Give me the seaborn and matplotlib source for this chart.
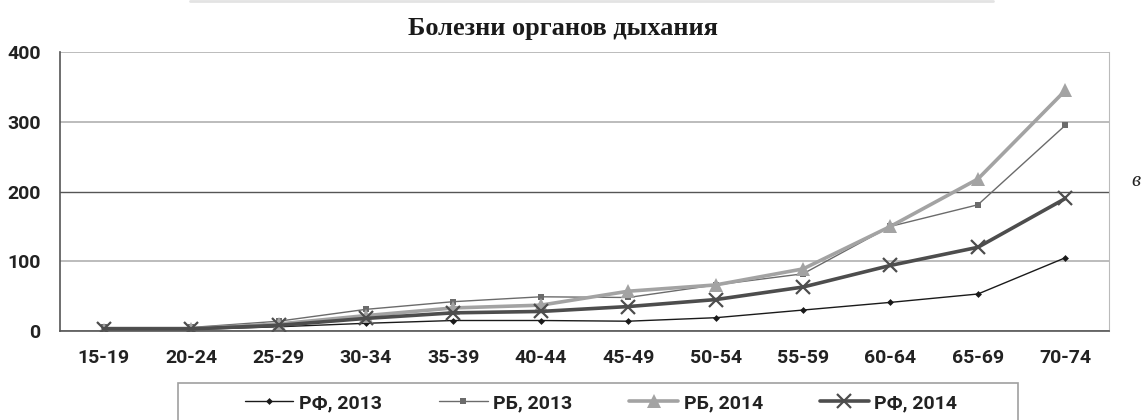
import pandas as pd
import matplotlib.pyplot as plt
import seaborn as sns
from matplotlib.lines import Line2D
from matplotlib.patches import Rectangle

# Data
ages = ["15-19", "20-24", "25-29", "30-34", "35-39", "40-44",
        "45-49", "50-54", "55-59", "60-64", "65-69", "70-74"]
rf_2013 = [2, 2, 6, 11, 15, 15, 14, 19, 30, 41, 53, 105]
rb_2013 = [5, 5, 14, 31, 42, 49, 48, 66, 82, 150, 181, 295]
rb_2014 = [2, 3, 10, 22, 33, 37, 57, 66, 89, 150, 218, 345]
rf_2014 = [3, 3, 8, 18, 26, 28, 35, 45, 63, 94, 120, 190]
series_names = ["РФ, 2013", "РБ, 2013", "РБ, 2014", "РФ, 2014"]
y_ticks = [0, 100, 200, 300, 400]

df = pd.DataFrame({"Возраст": ages, "РФ, 2013": rf_2013, "РБ, 2013": rb_2013,
                   "РБ, 2014": rb_2014, "РФ, 2014": rf_2014})
df_long = df.melt(id_vars="Возраст", var_name="Серия", value_name="Значение")

sns.set_style("white")
plt.rcParams['font.family'] = ['Roboto', 'DejaVu Sans']

fig = plt.figure(figsize=(11.47, 4.20), dpi=100)
ax = fig.add_axes([0.0523, 0.212, 0.9146, 0.664])

styles = {
    "РФ, 2013": dict(color="#1a1a1a", lw=1.0, marker="D", ms=3.5, mew=0),
    "РБ, 2013": dict(color="#6b6b6b", lw=1.0, marker="s", ms=5, mew=0),
    "РБ, 2014": dict(color="#a3a3a3", lw=2.6, marker="^", ms=10, mew=0),
    "РФ, 2014": dict(color="#4d4d4d", lw=2.6, marker="x", ms=10, mew=1.6),
}
for name in series_names:
    st = styles[name]
    sub = df_long[df_long["Серия"] == name]
    sns.lineplot(data=sub, x="Возраст", y="Значение", ax=ax, label=name,
                 color=st["color"], linewidth=st["lw"], marker=st["marker"],
                 markersize=st["ms"], markeredgewidth=st["mew"],
                 markeredgecolor=st["color"], sort=False)

ax.set_xlim(-0.5, len(ages) - 0.5)
ax.set_ylim(0, 400)
ax.set_yticks(y_ticks)
ax.set_xlabel("")
ax.set_ylabel("")
ax.set_xticks(range(len(ages)))
ax.set_xticklabels(ages, fontweight="bold", fontsize=14, color="#222222")
ax.set_yticklabels([str(t) for t in y_ticks], fontweight="bold", fontsize=14, color="#222222")
ax.tick_params(axis="x", which="major", length=0, pad=13)
ax.set_xticks([i + 0.5 for i in range(-1, len(ages))], minor=True)
ax.tick_params(axis="x", which="minor", length=5, color="#555555", direction="out")
ax.tick_params(axis="y", length=5, color="#555555", direction="out", pad=9)

ax.yaxis.grid(True, color="#b0b0b0", linewidth=1.2)
ax.set_axisbelow(True)
ax.get_ygridlines()[2].set_color("#555555")
ax.get_ygridlines()[2].set_linewidth(1.0)

for side in ["left", "bottom"]:
    ax.spines[side].set_color("#555555")
    ax.spines[side].set_linewidth(1.2)
ax.spines["right"].set_color("#bbbbbb")
ax.spines["top"].set_visible(False)

fig.text(563 / 1147, 1 - 35 / 420, "Болезни органов дыхания",
         ha="center", va="baseline", fontsize=19, fontweight="bold",
         family="Liberation Serif", color="#1a1a1a")

# legend entries spread across the box, box drawn separately
leg = ax.legend(loc="center", bbox_to_anchor=(233 / 1147, 1 - 403 / 420 - 0.01, 736 / 1147, 0.02),
                bbox_transform=fig.transFigure, mode="expand", ncol=4,
                frameon=False, handlelength=2.5, handletextpad=0.3,
                borderpad=0.1, prop={"weight": "bold", "size": 14})
for t in leg.get_texts():
    t.set_color("#222222")
fig.add_artist(Rectangle((178 / 1147, -0.05), 840 / 1147, 1 - 383 / 420 + 0.05,
                         transform=fig.transFigure, fill=False,
                         edgecolor="#a0a0a0", linewidth=1.2, clip_on=False))

fig.add_artist(Line2D([0.166, 0.866], [0.998, 0.998], transform=fig.transFigure,
                      color="#e3e3e3", linewidth=2))
fig.text(1136 / 1147, 1 - 182 / 420, "в", style="italic", family="Liberation Serif",
         fontsize=15, ha="center", va="center", color="#222222")

fig.savefig("out.png", dpi=100)
